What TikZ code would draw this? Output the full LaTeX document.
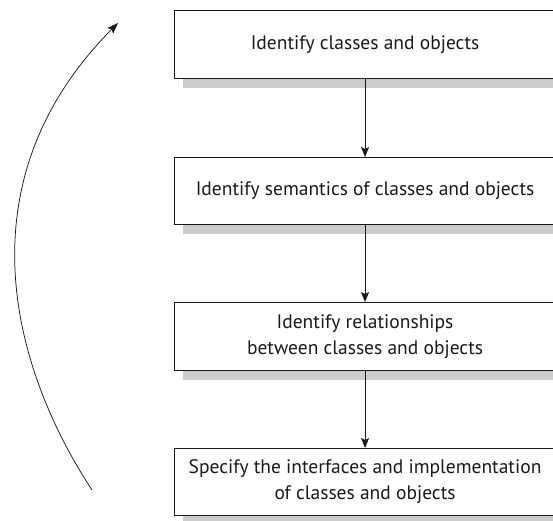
\documentclass[tikz,border=0pt]{standalone}
\usepackage{fontspec}
\setmainfont{PT Sans}
\usepackage{tikz}
\usetikzlibrary{arrows.meta,positioning}
\definecolor{Ink}{HTML}{1A1A1A}
\definecolor{Shade}{HTML}{CCCCCC}
\tikzset{
  step box/.style={
    draw=Ink,line width=1.1pt,fill=white,
    minimum width=381pt,minimum height=68pt,inner sep=0pt,
    align=center,font=\fontsize{19.5}{26}\selectfont,text=Ink,
    preaction={fill=Shade,transform canvas={shift={(8pt,-9pt)}}}
  },
  arrow/.style={-{Stealth[length=10pt,width=8pt,inset=2pt]},line width=0.8pt,draw=Ink},
  loop arc/.style={-{Stealth[length=11pt,width=8pt,inset=2pt]},line width=0.75pt,draw=Ink}
}
\begin{document}
\begin{tikzpicture}[x=1pt,y=-1pt]
  \useasboundingbox (0,0) rectangle (553,520);
  \node[step box,anchor=north west] (find) at (174,10) {Identify classes and objects};
  \node[step box,anchor=north west,minimum height=67pt] (semantics) at (174,157) {Identify semantics of classes and objects};
  \node[step box,anchor=north west] (relations) at (174,302) {Identify relationships\\between classes and objects};
  \node[step box,anchor=north west,minimum height=67pt] (interfaces) at (174,448) {Specify the interfaces and implementation\\of classes and objects};
  \draw[arrow] (find) -- (semantics);
  \draw[arrow] (semantics) -- (relations);
  \draw[arrow] (relations) -- (interfaces);
  % iteration back to the first step
  \coordinate (arc start) at (92,490);
  \coordinate (arc end) at (118,23);
  \draw[loop arc] (arc start) .. controls (10,365) and (-38,180) .. (arc end);
\end{tikzpicture}
\end{document}
